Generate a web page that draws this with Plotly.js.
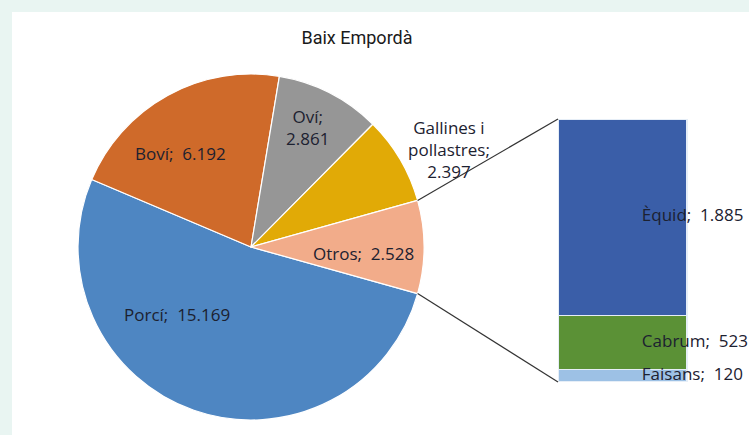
<!DOCTYPE html>
<html>
<head>
<meta charset="utf-8">
<script src="https://cdn.plot.ly/plotly-3.0.1.min.js"></script>
<style>
  html, body { margin: 0; padding: 0; background: #e9f5f2; }
  #chart { width: 749px; height: 435px; }
</style>
</head>
<body>
<div id="chart"></div>
<script>
// Pie slices (Otros = sum of the bar breakdown)
const pieLabels = ['Porcí', 'Boví', 'Oví', 'Gallines i pollastres', 'Otros'];
const pieValues = [15169, 6192, 2861, 2397, 2528];
const pieTextLabels = ['Porcí;  15.169', 'Boví;  6.192', 'Oví;<br>2.861', 'Gallines i<br>pollastres;<br>2.397', 'Otros;  2.528'];

// Breakdown of "Otros" (stacked bar, top to bottom)
const barLabels = ['Èquid', 'Cabrum', 'Faisans'];
const barValues = [1885, 523, 120];
const barTextLabels = ['Èquid;  1.885', 'Cabrum;  523', 'Faisans;  120'];

const pieColors = ['#4e86c2', '#cf6a2a', '#969696', '#e1aa06', '#f2ac8a'];
const barColors = ['#3a5ea8', '#5b9136', '#9dc1e5'];

const W = 749, H = 435;
const pie = { cx: 251, cy: 247, r: 173 };
const bar = { x0: 558, x1: 687, top: 119, bottom: 382 };
// where Excel put the pie data labels (pixel centres)
const pieLabelAt = [[177, 314], [180, 153], [307, 127], [449, 149], [363, 253]];

const FONT = 'Open Sans, sans-serif';
const TXT = '#1c2130';

const total = pieValues.reduce((a, b) => a + b, 0);
const otrosIdx = pieValues.length - 1;
// Excel centres the "other" slice at 3 o'clock
const rotation = 90 + pieValues[otrosIdx] / total * 180;

// bar axis: one unit = bar width
const barUnits = (W - bar.x0) / (bar.x1 - bar.x0);
const barTotal = barValues.reduce((a, b) => a + b, 0);

const traces = [];

traces.push({
  type: 'pie',
  labels: pieLabels,
  values: pieValues,
  textinfo: 'none',
  sort: false,
  direction: 'clockwise',
  rotation: rotation,
  marker: { colors: pieColors, line: { color: '#ffffff', width: 1.2 } },
  domain: {
    x: [(pie.cx - pie.r) / W, (pie.cx + pie.r) / W],
    y: [(H - pie.cy - pie.r) / H, (H - pie.cy + pie.r) / H]
  },
  hoverinfo: 'label+value',
  showlegend: false
});

// stacked bar: bottom segment first
const mids = [];
let cum = 0;
for (let i = barValues.length - 1; i >= 0; i--) {
  traces.push({
    type: 'bar',
    x: [0],
    y: [barValues[i]],
    width: 1,
    name: barLabels[i],
    marker: { color: barColors[i], line: { color: '#e6eef7', width: 1.2 } },
    hoverinfo: 'name+y',
    showlegend: false
  });
  mids[i] = cum + barValues[i] / 2;
  cum += barValues[i];
}

traces.push({
  type: 'scatter',
  mode: 'text',
  x: barValues.map(() => 0.15),
  y: mids,
  text: barTextLabels,
  textposition: 'middle right',
  textfont: { family: FONT, size: 17, color: TXT },
  hoverinfo: 'skip',
  showlegend: false
});

// connector lines from the "Otros" slice edges to the bar corners
const deg = Math.PI / 180;
const startOtros = rotation + pieValues.slice(0, otrosIdx).reduce((a, b) => a + b, 0) / total * 360;
const endOtros = startOtros + pieValues[otrosIdx] / total * 360;
const edge = a => [pie.cx + pie.r * Math.sin(a * deg), pie.cy - pie.r * Math.cos(a * deg)];
const pTop = edge(startOtros), pBot = edge(endOtros);
const px = x => x / W, py = y => 1 - y / H;
const connector = (p, y) => ({
  type: 'line', xref: 'paper', yref: 'paper',
  x0: px(p[0]), y0: py(p[1]), x1: px(bar.x0), y1: py(y),
  line: { color: '#333333', width: 1.2 }, layer: 'above'
});

const annotations = pieTextLabels.map((t, i) => ({
  xref: 'paper', yref: 'paper',
  x: px(pieLabelAt[i][0]), y: py(pieLabelAt[i][1]),
  xanchor: 'center', yanchor: 'middle',
  text: t, showarrow: false, align: 'center',
  font: { family: FONT, size: 17, color: TXT }
}));

const layout = {
  width: W,
  height: H,
  margin: { l: 0, r: 0, t: 0, b: 0 },
  paper_bgcolor: '#e9f5f2',
  plot_bgcolor: 'rgba(0,0,0,0)',
  barmode: 'stack',
  showlegend: false,
  title: {
    text: 'Baix Empordà',
    font: { family: 'Roboto, sans-serif', size: 18, color: '#1a1a1a' },
    x: 357 / W,
    xanchor: 'center',
    y: 1 - 38 / H,
    yanchor: 'middle'
  },
  xaxis: {
    domain: [bar.x0 / W, 1],
    range: [-0.5, barUnits - 0.5],
    visible: false,
    fixedrange: true
  },
  yaxis: {
    domain: [(H - bar.bottom) / H, (H - bar.top) / H],
    range: [0, barTotal],
    visible: false,
    fixedrange: true
  },
  annotations: annotations,
  shapes: [{
    type: 'rect', xref: 'paper', yref: 'paper',
    x0: 12 / W, x1: 1, y0: 0, y1: 1 - 12 / H,
    fillcolor: '#ffffff', line: { width: 0 }, layer: 'below'
  }, connector(pTop, bar.top), connector(pBot, bar.bottom)]
};

Plotly.newPlot('chart', traces, layout, { displayModeBar: false, staticPlot: true });
</script>
</body>
</html>
